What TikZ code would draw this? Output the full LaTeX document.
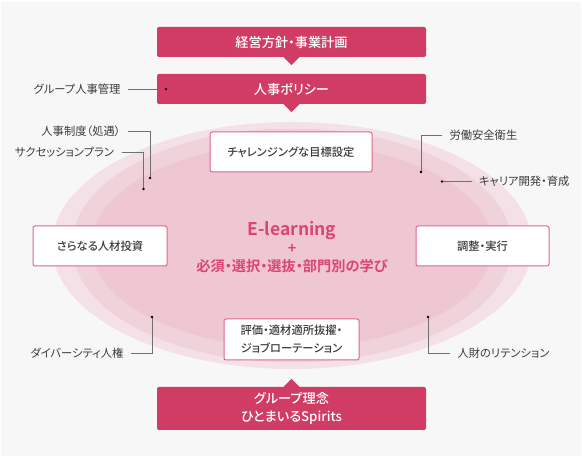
\documentclass[tikz,border=0pt]{standalone}
\usepackage{fontspec}
\setmainfont{Noto Sans CJK JP}[RawFeature=+palt, BoldFont={Noto Sans CJK JP Medium}]
\newfontfamily\heavyjp{Noto Sans CJK JP Bold}[RawFeature=+palt]
\usetikzlibrary{positioning,calc}
\definecolor{ruby}{HTML}{D03C64}
\definecolor{bggray}{HTML}{F7F7F7}
\definecolor{ringA}{HTML}{F4E1E7}
\definecolor{ringB}{HTML}{F0D2DB}
\definecolor{ringC}{HTML}{EEC7D2}
\definecolor{rimpink}{HTML}{E0668A}
\definecolor{inkgray}{HTML}{3C3C3C}
\definecolor{leadgray}{HTML}{707070}
\definecolor{hotpink}{HTML}{DC4474}

\begin{document}
\begin{tikzpicture}[
    x=1pt, y=-1pt,
    redbox/.style={rectangle, rounded corners=2pt, fill=ruby, text=white, minimum width=269pt, minimum height=30pt, align=center, font=\bfseries\fontsize{13.2}{18}\selectfont},
    whitebox/.style={rectangle, rounded corners=2pt, draw=rimpink, line width=1pt, fill=white, text=inkgray, minimum height=40pt, align=center, font=\bfseries\fontsize{11.3}{18}\selectfont},
    lbl/.style={inner xsep=7.5pt, inner ysep=0pt, outer sep=0pt, text=inkgray, font=\fontsize{11.3}{12}\selectfont},
    lead/.style={draw=leadgray, line width=0.7pt},
    dot/.style={fill=black}
]
    % canvas
    \fill[white] (0,0) rectangle (582,457);
    \fill[bggray] (1,2) rectangle (581,456);

    % rings
    \fill[ringA] (292,245.5) ellipse [x radius=240pt, y radius=123.5pt];
    \fill[ringB] (292,245.5) ellipse [x radius=220pt, y radius=117pt];
    \fill[ringC] (292,245.5) ellipse [x radius=201pt, y radius=102pt];

    % red boxes and pointers
    \node[redbox] (plan) at (291.5,42) {経営方針・事業計画};
    \node[redbox] (policy) at (291.5,89) {人事ポリシー};
    \node[redbox, minimum height=43pt] (spirit) at (291.5,408.5) {グループ理念\\ひとまいるSpirits};
    \fill[ruby] ($(plan.south)+(-8,0)$) -- ($(plan.south)+(8,0)$) -- ($(plan.south)+(0,8)$) -- cycle;
    \fill[ruby] ($(policy.south)+(-8,0)$) -- ($(policy.south)+(8,0)$) -- ($(policy.south)+(0,8)$) -- cycle;
    \fill[ruby] ($(spirit.north)+(-8,0)$) -- ($(spirit.north)+(8,0)$) -- ($(spirit.north)+(0,-8)$) -- cycle;

    % white boxes
    \node[whitebox, minimum width=162pt] (goal) at (291,152) {チャレンジングな目標設定};
    \node[whitebox, minimum width=134pt] (invest) at (100,246) {さらなる人材投資};
    \node[whitebox, minimum width=133pt] (adjust) at (482.5,246) {調整・実行};
    \node[whitebox, minimum width=135pt, minimum height=41pt] (rotate) at (291.5,339.5) {評価・適材適所抜擢・\\ジョブローテーション};

    % centre
    \node[align=center, text=hotpink, font=\heavyjp\fontsize{14.2}{18}\selectfont] (learn) at (292,247)
        {{\fontsize{17.5}{18}\selectfont E-learning}\\+\\必須・選択・選抜・部門別の学び};

    % leader points
    \coordinate (dgroup) at (166,89);
    \coordinate (dsystem) at (150,178);
    \coordinate (dsucc) at (143.5,189);
    \coordinate (dsafety) at (421,172);
    \coordinate (dcareer) at (442,181.5);
    \coordinate (ddivers) at (152,317);
    \coordinate (dretain) at (428,317);

    % labels
    \node[lbl, anchor=east] (lgroup) at (128,89) {グループ人事管理};
    \node[lbl, anchor=east] (lsystem) at (128,131.5) {人事制度（処遇）};
    \node[lbl, anchor=east] (lsucc) at (121.5,152.5) {サクセッションプラン};
    \node[lbl, anchor=west] (lsafety) at (442,135) {労働安全衛生};
    \node[lbl, anchor=west] (lcareer) at (471.5,181.5) {キャリア開発・育成};
    \node[lbl, anchor=east] (ldivers) at (131,353) {ダイバーシティ人権};
    \node[lbl, anchor=west] (lretain) at (450,353) {人財のリテンション};

    \draw[lead] (lgroup.east) -- (dgroup);
    \draw[lead] (lsystem.east) -| (dsystem);
    \draw[lead] (lsucc.east) -| (dsucc);
    \draw[lead] (lsafety.west) -| (dsafety);
    \draw[lead] (lcareer.west) -- (dcareer);
    \draw[lead] (ldivers.east) -| (ddivers);
    \draw[lead] (lretain.west) -| (dretain);

    \foreach \d in {dgroup,dsystem,dsucc,dsafety,dcareer,ddivers,dretain}
        \fill[dot] (\d) circle (1.3pt);
\end{tikzpicture}
\end{document}
